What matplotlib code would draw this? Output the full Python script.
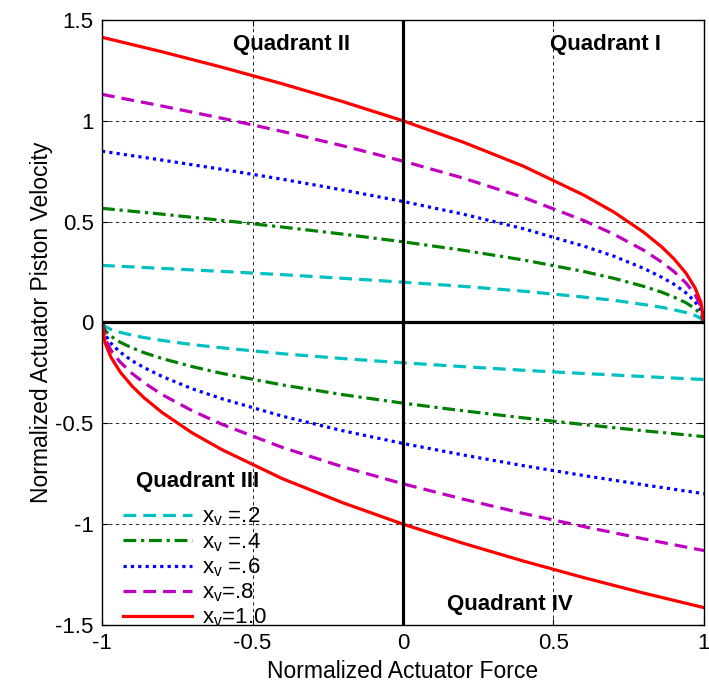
import matplotlib
matplotlib.use("Agg")
import matplotlib.pyplot as plt

plt.rcParams['font.family'] = ['Liberation Sans', 'DejaVu Sans']

# normalized force samples, upper branch (v > 0)
force_up = [-1.0, -0.8, -0.6, -0.4, -0.2, 0.0, 0.2, 0.4, 0.6, 0.7, 0.8,
            0.86, 0.9, 0.94, 0.97, 0.99, 1.0]
# lower branch (v < 0)
force_low = [-1.0, -0.99, -0.97, -0.94, -0.9, -0.86, -0.8, -0.7, -0.6,
             -0.4, -0.2, 0.0, 0.2, 0.4, 0.6, 0.8, 1.0]

vel_up_02 = [0.283, 0.268, 0.253, 0.237, 0.219, 0.200, 0.179, 0.155, 0.126,
             0.110, 0.089, 0.075, 0.063, 0.049, 0.035, 0.020, 0.0]
vel_up_04 = [0.566, 0.537, 0.506, 0.473, 0.438, 0.400, 0.358, 0.310, 0.253,
             0.219, 0.179, 0.150, 0.126, 0.098, 0.069, 0.040, 0.0]
vel_up_06 = [0.849, 0.805, 0.759, 0.710, 0.657, 0.600, 0.537, 0.465, 0.379,
             0.329, 0.268, 0.224, 0.190, 0.147, 0.104, 0.060, 0.0]
vel_up_08 = [1.131, 1.073, 1.012, 0.947, 0.876, 0.800, 0.716, 0.620, 0.506,
             0.438, 0.358, 0.299, 0.253, 0.196, 0.139, 0.080, 0.0]
vel_up_10 = [1.414, 1.342, 1.265, 1.183, 1.095, 1.000, 0.894, 0.775, 0.632,
             0.548, 0.447, 0.374, 0.316, 0.245, 0.173, 0.100, 0.0]

vel_low_02 = [0.0, -0.020, -0.035, -0.049, -0.063, -0.075, -0.089, -0.110,
              -0.126, -0.155, -0.179, -0.200, -0.219, -0.237, -0.253, -0.268, -0.283]
vel_low_04 = [0.0, -0.040, -0.069, -0.098, -0.126, -0.150, -0.179, -0.219,
              -0.253, -0.310, -0.358, -0.400, -0.438, -0.473, -0.506, -0.537, -0.566]
vel_low_06 = [0.0, -0.060, -0.104, -0.147, -0.190, -0.224, -0.268, -0.329,
              -0.379, -0.465, -0.537, -0.600, -0.657, -0.710, -0.759, -0.805, -0.849]
vel_low_08 = [0.0, -0.080, -0.139, -0.196, -0.253, -0.299, -0.358, -0.438,
              -0.506, -0.620, -0.716, -0.800, -0.876, -0.947, -1.012, -1.073, -1.131]
vel_low_10 = [0.0, -0.100, -0.173, -0.245, -0.316, -0.374, -0.447, -0.548,
              -0.632, -0.775, -0.894, -1.000, -1.095, -1.183, -1.265, -1.342, -1.414]

labels = ['x$_\\mathregular{v}$ =.2', 'x$_\\mathregular{v}$ =.4',
          'x$_\\mathregular{v}$ =.6', 'x$_\\mathregular{v}$=.8',
          'x$_\\mathregular{v}$=1.0']

fig = plt.figure(figsize=(7.09, 6.88), dpi=100)
ax = fig.add_axes([0.1439, 0.0916, 0.849, 0.8794])

lw = 2.3
styles = [
    dict(color='#00C0C0', linestyle=(0, (4, 2.2))),
    dict(color='#008000', linestyle=(0, (4, 1.5, 1, 1.5))),
    dict(color='#0000FF', linestyle=(0, (1, 1.3))),
    dict(color='#C000C0', linestyle=(0, (4, 2.2))),
    dict(color='#FF0000', linestyle='-'),
]
ups = [vel_up_02, vel_up_04, vel_up_06, vel_up_08, vel_up_10]
lows = [vel_low_02, vel_low_04, vel_low_06, vel_low_08, vel_low_10]

handles = []
for up, low, st, lab in zip(ups, lows, styles, labels):
    h, = ax.plot(force_up, up, lw=lw, label=lab, **st)
    ax.plot(force_low, low, lw=lw, **st)
    handles.append(h)

# heavy quadrant axes
ax.axhline(0, color='black', lw=2.3, zorder=5)
ax.axvline(0, color='black', lw=2.3, zorder=5)

ax.set_xlim(-1, 1)
ax.set_ylim(-1.5, 1.5)
ax.set_xticks([-1, -0.5, 0, 0.5, 1])
ax.set_xticklabels(['-1', '-0.5', '0', '0.5', '1'])
ax.set_yticks([-1.5, -1, -0.5, 0, 0.5, 1, 1.5])
ax.set_yticklabels(['-1.5', '-1', '-0.5', '0', '0.5', '1', '1.5'])
ax.tick_params(direction='in', length=4, width=0.8, top=True, right=True,
               labelsize=16, pad=6)
ax.grid(True, color='black', linestyle=(0, (4, 4)), linewidth=0.6)
for s in ax.spines.values():
    s.set_linewidth(1.0)

ax.set_xlabel('Normalized Actuator Force', fontsize=16.5, labelpad=4)
ax.set_ylabel('Normalized Actuator Piston Velocity', fontsize=16.5, labelpad=2)

qfont = dict(fontsize=16, fontweight='bold', ha='center', va='center', zorder=6)
ax.text(-0.369, 1.376, 'Quadrant II', **qfont)
ax.text(0.671, 1.376, 'Quadrant I', **qfont)
ax.text(0.355, -1.40, 'Quadrant IV', **qfont)
ax.text(-0.684, -0.79, 'Quadrant III', **qfont)

ax.legend(handles=handles, loc='upper left', bbox_to_anchor=(0.035, 0.197),
          frameon=False, fontsize=16, handlelength=3.1, handletextpad=0.45,
          labelspacing=0.12, borderpad=0, borderaxespad=0)

fig.savefig('out.png', dpi=100)
